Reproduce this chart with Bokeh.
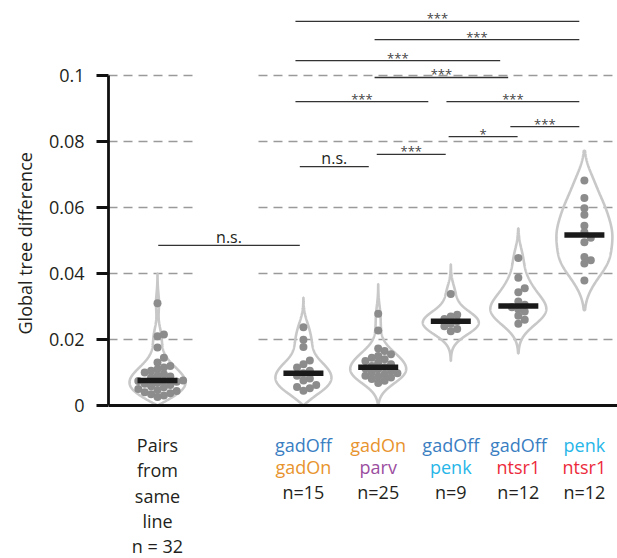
import numpy as np
from bokeh.plotting import figure
from bokeh.models import Range1d, FixedTicker, Span, Title
from bokeh.core.properties import value
from bokeh.embed import file_html
from bokeh.resources import INLINE

FONT = "Open Sans"
INK = "#231f20"

# ---------------- data ----------------
pairs_same_line = [0.0310, 0.0215, 0.0210, 0.0176, 0.0145, 0.0130, 0.0120, 0.0115,
                   0.0110, 0.0105, 0.0100, 0.0095, 0.0090, 0.0088, 0.0085, 0.0075,
                   0.0076, 0.0074, 0.0072, 0.0070, 0.0066, 0.0062, 0.0058, 0.0055,
                   0.0050, 0.0047, 0.0044, 0.0040, 0.0037, 0.0034, 0.0030, 0.0026]
gadoff_gadon = [0.0237, 0.0199, 0.0177, 0.0136, 0.0125, 0.0115, 0.0105, 0.0098,
                0.0090, 0.0082, 0.0076, 0.0062, 0.0056, 0.0052, 0.0045]
gadon_parv = [0.0278, 0.0227, 0.0173, 0.0165, 0.0155, 0.0150, 0.0145, 0.0140,
              0.0135, 0.0130, 0.0125, 0.0120, 0.0116, 0.0112, 0.0110, 0.0105,
              0.0100, 0.0098, 0.0095, 0.0090, 0.0088, 0.0085, 0.0080, 0.0075, 0.0068]
gadoff_penk = [0.0338, 0.0275, 0.0270, 0.0262, 0.0255, 0.0248, 0.0240, 0.0232, 0.0225]
gadoff_ntsr1 = [0.0447, 0.0387, 0.0355, 0.0343, 0.0315, 0.0305, 0.0298, 0.0292,
                0.0285, 0.0272, 0.0260, 0.0248]
penk_ntsr1 = [0.0682, 0.0629, 0.0598, 0.0578, 0.0545, 0.0525, 0.0508, 0.0495,
              0.0450, 0.0440, 0.0430, 0.0379]

groups = [pairs_same_line, gadoff_gadon, gadon_parv, gadoff_penk, gadoff_ntsr1, penk_ntsr1]
group_x = [0.0, 2.01, 3.04, 4.04, 4.97, 5.88]

pairs_label_lines = ["Pairs", "from", "same", "line", "n = 32"]
top_names = ["gadOff", "gadOn", "gadOff", "gadOff", "penk"]
bottom_names = ["gadOn", "parv", "penk", "ntsr1", "ntsr1"]
n_labels = ["n=15", "n=25", "n=9", "n=12", "n=12"]
line_colors = {"gadOff": "#3a7ec2", "gadOn": "#e8942e", "parv": "#9b4e9f",
               "penk": "#27b6e8", "ntsr1": "#ec2a3b"}

y_title = "Global tree difference"
y_ticks = [0, 0.02, 0.04, 0.06, 0.08, 0.1]
y_tick_labels = ["0", "0.02", "0.04", "0.06", "0.08", "0.1"]

# significance comparisons: level, start, end (x axis units), text
sig_level = [0.1164, 0.1109, 0.1045, 0.0994, 0.0921, 0.0921, 0.0845, 0.0815, 0.0761, 0.0724, 0.0485]
sig_start = [1.90, 2.99, 1.90, 2.99, 1.90, 3.98, 4.86, 4.01, 3.02, 1.96, 0.01]
sig_end = [5.81, 5.81, 4.72, 4.83, 3.73, 5.81, 5.81, 4.96, 3.97, 2.91, 1.96]
sig_text = ["***", "***", "***", "***", "***", "***", "***", "*", "***", "n.s.", "n.s."]

# ---------------- figure ----------------
X0, X1 = -0.675, 6.336
Y0, Y1 = -0.046364, 0.122727
FRAME_W, FRAME_H = 509, 558
PX_X = FRAME_W / (X1 - X0)
PX_Y = FRAME_H / (Y1 - Y0)

p = figure(width=617, height=558, x_range=Range1d(X0, X1), y_range=Range1d(Y0, Y1),
           x_axis_location=None, toolbar_location=None, output_backend="svg",
           min_border_left=108, min_border_right=0, min_border_top=0, min_border_bottom=0)
p.outline_line_color = None
p.xgrid.visible = False
p.ygrid.visible = False

ax = p.yaxis[0]
ax.bounds = (0, 0.1)
ax.ticker = FixedTicker(ticks=y_ticks)
ax.major_label_overrides = {t: l for t, l in zip(y_ticks, y_tick_labels)}
ax.axis_line_width = 2.8
ax.axis_line_color = "#111111"
ax.major_tick_line_width = 2.8
ax.major_tick_line_color = "#111111"
ax.major_tick_out = 12
ax.major_tick_in = 0
ax.minor_tick_line_color = None
ax.major_label_standoff = 12
ax.major_label_text_font = FONT
ax.major_label_text_font_size = "18px"
ax.major_label_text_color = INK

# y axis title (left title, started from below so it centres on the 0..0.1 span)
p.add_layout(Title(text=y_title, align="left", offset=224, standoff=17,
                   text_font=FONT, text_font_size="18px", text_font_style="normal",
                   text_color=INK), "left")

# broken dashed grid lines
gap_a, gap_b = 0.551, 1.391
for t in y_ticks[1:]:
    p.segment(x0=[X0, gap_b], y0=[t, t], x1=[gap_a, X1], y1=[t, t],
              line_color="#9a9a9a", line_width=1.3, line_dash="9 6")

# violins
HALF_W = 28 / PX_X
def violin(vals, bw=0.0032, pad=0.009, n=300):
    v = np.asarray(vals)
    lo = max(0.0, v.min() - pad)
    hi = v.max() + pad
    ys = np.linspace(lo, hi, n)
    k = lambda y: np.exp(-0.5 * ((y[:, None] - v[None, :]) / bw) ** 2).sum(1)
    d = np.clip(k(ys) - k(-ys), 0, None)
    return ys, d / d.max()

bws = [0.0030, 0.0030, 0.0030, 0.0030, 0.0035, 0.0042]
for vals, x, bw in zip(groups, group_x, bws):
    ys, d = violin(vals, bw)
    xs = np.concatenate([x + d * HALF_W, (x - d * HALF_W)[::-1]])
    yy = np.concatenate([ys, ys[::-1]])
    p.patch(xs, yy, fill_color=None, line_color="#c8c8c8", line_width=2.6)

# beeswarm points
def swarm(vals, x, diam=6.5, step=3.2):
    vals = np.asarray(vals)
    order = np.argsort(vals)
    placed = []
    out = np.zeros(len(vals))
    for i in order:
        ypx = vals[i] * PX_Y
        for k in range(0, 40):
            off = ((k + 1) // 2) * step * (1 if k % 2 else -1) if k else 0.0
            if all((off - px) ** 2 + (ypx - py) ** 2 >= diam ** 2 for px, py in placed):
                break
        placed.append((off, ypx))
        out[i] = x + off / PX_X
    return out

for vals, x in zip(groups, group_x):
    p.scatter(swarm(vals, x), vals, size=8, fill_color="#8c8c8c", line_color=None)

# medians
meds = [float(np.median(g)) for g in groups]
p.rect(x=group_x, y=meds, width=40 / PX_X, height=5.5, height_units="screen",
       fill_color="#1a1a1a", line_color=None)

# zero line (x axis)
p.add_layout(Span(location=0, dimension="width", line_color="#111111", line_width=2.8))

# significance bars
p.segment(x0=sig_start, y0=sig_level, x1=sig_end, y1=sig_level, line_color="#333333", line_width=1.3)
mid = [(a + b) / 2 for a, b in zip(sig_start, sig_end)]
stars = [i for i, s in enumerate(sig_text) if "*" in s]
ns = [i for i, s in enumerate(sig_text) if "*" not in s]
p.text(x=[mid[i] for i in stars], y=[sig_level[i] for i in stars], text=[sig_text[i] for i in stars],
       text_font=value(FONT), text_font_size="13px", text_color="#444444",
       text_align="center", text_baseline="middle", y_offset=-3)
p.text(x=[mid[i] for i in ns], y=[sig_level[i] for i in ns], text=[sig_text[i] for i in ns],
       text_font=value(FONT), text_font_size="16px", text_color=INK,
       text_align="center", text_baseline="middle", y_offset=-8.5)

# category labels under axis
p.text(x=[group_x[0]] * 5, y=[0] * 5, text=pairs_label_lines, y_offset=[40, 65, 90.5, 115.5, 141],
       text_font=value(FONT), text_font_size="18px", text_color=INK,
       text_align="center", text_baseline="middle")
p.text(x=group_x[1:], y=[0] * 5, text=top_names, y_offset=39.5,
       text_color=[line_colors[n] for n in top_names],
       text_font=value(FONT), text_font_size="18px", text_align="center", text_baseline="middle")
p.text(x=group_x[1:], y=[0] * 5, text=bottom_names, y_offset=62,
       text_color=[line_colors[n] for n in bottom_names],
       text_font=value(FONT), text_font_size="18px", text_align="center", text_baseline="middle")
p.text(x=group_x[1:], y=[0] * 5, text=n_labels, y_offset=87, text_color=INK,
       text_font=value(FONT), text_font_size="18px", text_align="center", text_baseline="middle")

open("out.html", "w").write(file_html(p, INLINE))
